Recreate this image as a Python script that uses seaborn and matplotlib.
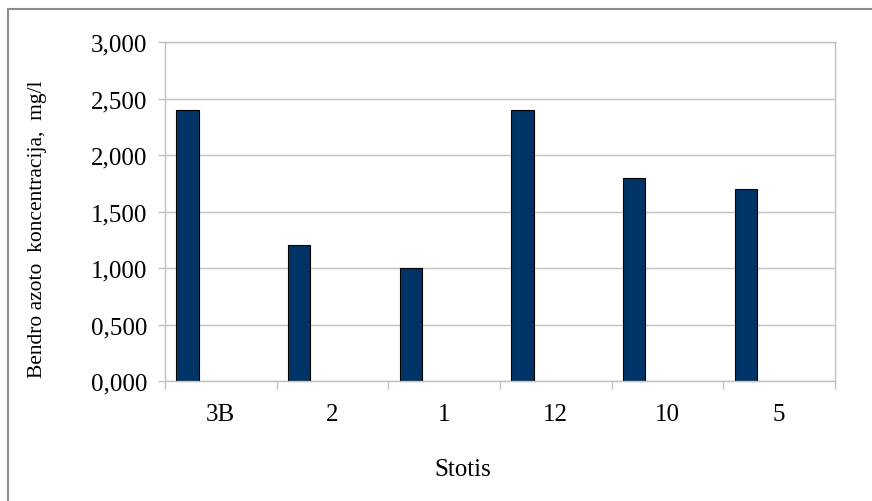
import pandas as pd
import matplotlib.pyplot as plt
import seaborn as sns
from matplotlib.lines import Line2D
from matplotlib.ticker import FuncFormatter, FixedLocator

# podaci sa grafa
stations = ["3B", "2", "1", "12", "10", "5"]
concentration = [2.4, 1.2, 1.0, 2.4, 1.8, 1.7]
# Excel grafikas turi 4 serijas, pildoma tik pirmoji
series_order = ["s1", "s2", "s3", "s4"]
y_ticks = [0.0, 0.5, 1.0, 1.5, 2.0, 2.5, 3.0]

df = pd.DataFrame({"station": stations, "value": concentration, "series": series_order[0]})

sns.set_theme(style="white")
plt.rcParams["font.family"] = ["Liberation Serif", "DejaVu Serif"]

W, H = 872, 502
fig = plt.figure(figsize=(W / 100, H / 100), dpi=100)
ax = fig.add_axes([165 / W, 1 - 382 / H, 670 / W, 339 / H])

bar_color = "#003366"
sns.barplot(
    data=df, x="station", y="value", hue="series",
    order=stations, hue_order=series_order,
    palette={s: bar_color for s in series_order},
    width=0.8, dodge=True, saturation=1,
    edgecolor="black", linewidth=0.8,
    legend=False, ax=ax,
)

grey = "#c0c0c0"
ax.set_xlim(-0.5, len(stations) - 0.5)
ax.set_ylim(0, 3)
ax.set_yticks(y_ticks)
ax.yaxis.set_major_formatter(FuncFormatter(lambda v, _: f"{v:.3f}".replace(".", ",")))
ax.yaxis.grid(True, color=grey, linewidth=1)
ax.xaxis.grid(False)
ax.set_axisbelow(True)

ax.xaxis.set_minor_locator(FixedLocator([i - 0.5 for i in range(len(stations) + 1)]))
ax.tick_params(axis="x", which="major", length=0, pad=16, labelsize=18, labelcolor="black")
ax.tick_params(axis="x", which="minor", length=6, width=1, color=grey, bottom=True)
ax.tick_params(axis="y", which="major", length=5, width=1, color=grey, left=True, pad=8,
               labelsize=18, labelcolor="black")

for side in ["left", "bottom", "right", "top"]:
    ax.spines[side].set_color(grey)
    ax.spines[side].set_linewidth(1)

ax.set_xlabel("Stotis", fontsize=18, color="black")
ax.xaxis.set_label_coords((463 - 165) / 670, (382 - 459) / 339)
ax.set_ylabel("Bendro azoto  koncentracija,  mg/l", fontsize=15.5, color="black")
ax.yaxis.set_label_coords((47 - 165) / 670, (382 - 229) / 339)

# remelis aplink grafika
fig.add_artist(Line2D([8 / W, 8 / W], [0, 1 - 10 / H], transform=fig.transFigure, color="#8c8c8c", lw=1.5))
fig.add_artist(Line2D([8 / W, 1], [1 - 10 / H, 1 - 10 / H], transform=fig.transFigure, color="#8c8c8c", lw=1.5))

fig.savefig("out.png", dpi=100)
